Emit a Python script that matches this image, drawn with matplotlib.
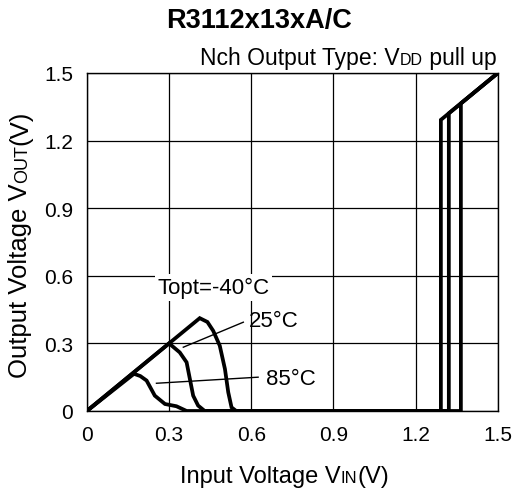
import matplotlib
matplotlib.use("Agg")
import matplotlib.pyplot as plt
from matplotlib.transforms import offset_copy

plt.rcParams['font.family'] = ['Liberation Sans', 'DejaVu Sans']

# falling curves (low VIN region)
x_m40 = [0, 0.412, 0.44, 0.461, 0.485, 0.504, 0.516, 0.528, 0.545, 1.5]
y_m40 = [0, 0.412, 0.395, 0.356, 0.29, 0.186, 0.083, 0.016, 0.0, 0.0]
x_25 = [0, 0.30, 0.339, 0.364, 0.376, 0.388, 0.406, 0.43, 1.5]
y_25 = [0, 0.30, 0.26, 0.216, 0.142, 0.068, 0.024, 0.0, 0.0]
x_85 = [0, 0.172, 0.195, 0.218, 0.248, 0.285, 0.327, 0.364, 1.5]
y_85 = [0, 0.165, 0.155, 0.135, 0.068, 0.031, 0.021, 0.0, 0.0]

# rising edge (release voltage) for the three temperatures
x_rel = [1.292, 1.321, 1.365]
y_top = 1.5

ticks = [0, 0.3, 0.6, 0.9, 1.2, 1.5]
tick_labels = ["0", "0.3", "0.6", "0.9", "1.2", "1.5"]

fig = plt.figure(figsize=(5.17, 4.89), dpi=100)
ax = fig.add_axes([0.168, 0.1575, 0.795, 0.6912])

lw = 2.7
for xs, ys, xr in zip([x_m40, x_25, x_85], [y_m40, y_25, y_85], x_rel):
    xx = xs[:-1] + [xr, xr, 1.5]
    yy = ys[:-1] + [0.0, xr, y_top]
    ax.plot(xx, yy, color="black", lw=lw, solid_joinstyle="miter", zorder=3)

ax.set_xlim(0, 1.5)
ax.set_ylim(0, 1.5)
ax.set_xticks(ticks)
ax.set_xticklabels(tick_labels)
ax.set_yticks(ticks)
ax.set_yticklabels(tick_labels)
ax.tick_params(length=0, labelsize=15, pad=10)
ax.grid(True, color="black", lw=0.9)
for s in ax.spines.values():
    s.set_linewidth(1.0)

# labels and leader lines
bb = dict(facecolor="white", edgecolor="none", pad=2)
ax.text(0.463, 0.548, "Topt=-40°C", fontsize=16, ha="center", va="center", bbox=bb, zorder=4)
ax.text(0.682, 0.402, "25°C", fontsize=16, ha="center", va="center", zorder=4)
ax.plot([0.352, 0.571], [0.283, 0.394], color="black", lw=1.0, zorder=4)
ax.text(0.745, 0.142, "85°C", fontsize=16, ha="center", va="center", zorder=4)
ax.plot([0.254, 0.625], [0.123, 0.150], color="black", lw=1.0, zorder=4)

fig.text(0.5, 0.958, "R3112x13xA/C", fontsize=19.5, fontweight="bold", ha="center", va="center")

renderer = fig.canvas.get_renderer()


def mixed_text(x, y, parts, rotation=0, ha="center"):
    # place text pieces of different sizes one after another on a common baseline
    widths = []
    for s, size in parts:
        t = fig.text(0, 0, s, fontsize=size)
        widths.append(t.get_window_extent(renderer).width)
        t.remove()
    total = sum(widths)
    if ha == "center":
        start = -total / 2
    elif ha == "right":
        start = -total
    else:
        start = 0
    pos = start
    for (s, size), w in zip(parts, widths):
        px = pos * 72 / fig.dpi
        if rotation == 90:
            tr = offset_copy(fig.transFigure, fig=fig, x=0, y=px, units="points")
            fig.text(x, y, s, fontsize=size, rotation=90, ha="left", va="baseline",
                     rotation_mode="anchor", transform=tr)
        else:
            tr = offset_copy(fig.transFigure, fig=fig, x=px, y=0, units="points")
            fig.text(x, y, s, fontsize=size, ha="left", va="baseline", transform=tr)
        pos += w


mixed_text(0.961, 0.867, [("Nch Output Type: V", 16.5), ("DD", 11.5), (" pull up", 16.5)], ha="right")
mixed_text(0.55, 0.013, [("Input Voltage V", 17), ("IN", 12), ("(V)", 17)])
mixed_text(0.052, 0.5, [("Output Voltage V", 18.5), ("OUT", 13), ("(V)", 18.5)], rotation=90)

fig.savefig("out.png", dpi=100)
